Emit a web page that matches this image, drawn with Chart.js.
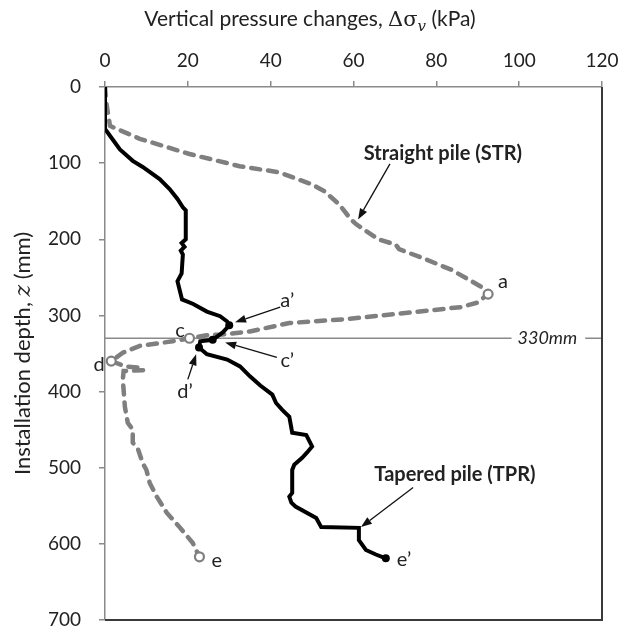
<!DOCTYPE html>
<html><head><meta charset="utf-8">
<script src="https://cdn.jsdelivr.net/npm/chart.js@4/dist/chart.umd.min.js"></script>
<style>html,body{margin:0;padding:0;background:#fff;}#wrap{width:620px;height:637px;}</style>
</head><body><div id="wrap"><canvas id="c" width="620" height="637"></canvas></div>
<script>
// ---- data ----
const xTickValues = [0, 20, 40, 60, 80, 100, 120];
const zTickValues = [0, 100, 200, 300, 400, 500, 600, 700];

// Straight pile (STR): vertical pressure change (kPa) vs depth (mm)
const strX = [0, 0.3, 1.2, 2.4, 8.4, 20.4, 32.5, 42, 50, 53, 56.5, 59.4, 60.6, 66, 70.2, 71, 76.4, 83.6, 88.5, 91, 92.5,
  90, 86, 74, 58, 44.5, 35, 28.4, 24.5, 20.4, 16.3, 8.4, 4.3, 1.5, 5, 9, 9.3, 4.5, 4.3, 4.8, 5.5, 6.7, 6.7, 8, 9.1, 10,
  10.8, 12.5, 14.9, 18, 21.2, 22.8];
const strZ = [0, 20, 51, 54, 68, 88, 104, 112, 128, 137, 154, 174, 180, 200, 207, 213, 224, 240, 255, 263, 272,
  283, 289, 296, 305, 310, 321, 325, 326, 330, 334, 340, 349, 360, 367, 369, 372, 373, 384, 420, 441, 450, 467, 476, 494, 503,
  520, 538, 559, 578, 599, 617];

// Tapered pile (TPR)
const tprX = [0, 0, 1.2, 3.6, 6.7, 9.1, 13.2, 15.6, 17.5, 18.8, 19.5, 19.5, 18.5, 19.2, 18.3, 18.8, 18.5, 17.5, 18.6, 21.3, 24.6, 27.8, 29.5, 30,
  28.5, 26, 23, 22.7, 24.6, 29.5, 32.6, 35, 37.5, 40.4, 41.3, 42.8, 44.5, 45.2, 48.6, 50, 48.8, 47.6, 45.7, 45.2, 45.2, 44.5, 45, 46,
  51, 52.2, 61.3, 61.3, 63, 65.4, 67.8];
const tprZ = [0, 55, 64, 82, 97, 105, 121, 134, 147, 158, 162, 200, 205, 210, 215, 220, 245, 255, 279, 285, 295, 301, 308, 313,
  322, 332, 334, 342, 351, 358, 367, 380, 392, 404, 415, 424, 433, 454, 457, 472, 480, 487, 496, 503, 533, 538, 546, 551,
  566, 578, 579, 595, 608, 614, 619];

// labelled points
const strMarkX = [92.5, 20.4, 1.5, 22.8];
const strMarkZ = [272, 330, 360, 617];
const strMarkNames = ['a', 'c', 'd', 'e'];
const tprMarkX = [30, 26, 22.7, 67.8];
const tprMarkZ = [313, 332, 342, 619];
const tprMarkNames = ['a\u2019', 'c\u2019', 'd\u2019', 'e\u2019'];
const refDepth = 330;
const seriesNames = ['Straight pile (STR)', 'Tapered pile (TPR)'];

// ---- annotation layout (data units) ----
const FONT = 'Lato, "Open Sans", sans-serif';
const labelPos = {
  'a': [96.1, 255], 'c': [18.1, 320], 'd': [-1.4, 364], 'e': [27, 622],
  'a\u2019': [44, 280], 'c\u2019': [44, 359], 'd\u2019': [19.3, 400], 'e\u2019': [72.2, 620]
};
const arrows = [
  {from: [68.8, 101], to: [61.1, 174]},
  {from: [74.4, 526], to: [61.8, 578]},
  {from: [42.3, 289], to: [31.4, 309]},
  {from: [41.5, 355], to: [29, 335.5]},
  {from: [20, 384], to: [22, 351]}
];
const seriesLabelPos = [[81.6, 87], [84.5, 509]];
const refLabelX = 106.8;

const pts = (xs, zs) => xs.map((v, i) => ({x: v, y: zs[i]}));

const annotPlugin = {
  id: 'annot',
  beforeDatasetsDraw(chart) {
    const ctx = chart.ctx, a = chart.chartArea, xs = chart.scales.x, ys = chart.scales.y;
    const y = ys.getPixelForValue(refDepth);
    ctx.save();
    ctx.font = 'italic 18px ' + FONT;
    const w = ctx.measureText('330mm').width;
    const cx = xs.getPixelForValue(refLabelX);
    ctx.strokeStyle = '#8a8a8a'; ctx.lineWidth = 1.5;
    ctx.beginPath();
    ctx.moveTo(a.left, y); ctx.lineTo(cx - w / 2 - 6, y);
    ctx.moveTo(cx + w / 2 + 8, y); ctx.lineTo(a.right, y);
    ctx.stroke();
    ctx.fillStyle = '#222'; ctx.textAlign = 'center'; ctx.textBaseline = 'middle';
    ctx.fillText('330mm', cx, y);
    ctx.restore();
  },
  afterDraw(chart) {
    const ctx = chart.ctx, a = chart.chartArea, xs = chart.scales.x, ys = chart.scales.y;
    const P = (p) => [xs.getPixelForValue(p[0]), ys.getPixelForValue(p[1])];
    ctx.save();
    // right & bottom frame
    ctx.strokeStyle = '#3a3a3a'; ctx.lineWidth = 2;
    ctx.beginPath();
    ctx.moveTo(a.left, a.bottom); ctx.lineTo(a.right, a.bottom); ctx.lineTo(a.right, a.top);
    ctx.stroke();
    // arrows
    ctx.strokeStyle = '#111'; ctx.fillStyle = '#111'; ctx.lineWidth = 1.3;
    arrows.forEach(ar => {
      const [x1, y1] = P(ar.from), [x2, y2] = P(ar.to);
      const ang = Math.atan2(y2 - y1, x2 - x1), L = 11, H = 4;
      const bx = x2 - L * Math.cos(ang), by = y2 - L * Math.sin(ang);
      ctx.beginPath(); ctx.moveTo(x1, y1); ctx.lineTo(bx, by); ctx.stroke();
      ctx.beginPath(); ctx.moveTo(x2, y2);
      ctx.lineTo(bx + H * Math.sin(ang), by - H * Math.cos(ang));
      ctx.lineTo(bx - H * Math.sin(ang), by + H * Math.cos(ang));
      ctx.closePath(); ctx.fill();
    });
    // point labels
    ctx.fillStyle = '#222'; ctx.textAlign = 'center'; ctx.textBaseline = 'middle';
    ctx.font = '20px ' + FONT;
    Object.keys(labelPos).forEach(k => {
      const [px, py] = P(labelPos[k]);
      ctx.fillText(k, px, py);
    });
    // series labels
    ctx.font = 'bold 20px ' + FONT;
    seriesNames.forEach((n, i) => {
      const [px, py] = P(seriesLabelPos[i]);
      ctx.fillText(n, px, py);
    });
    // x title (top)
    const parts = [
      {t: 'Vertical pressure changes, ', f: '21px ' + FONT, dy: 0},
      {t: '\u0394\u03c3', f: '21px "DejaVu Serif", serif', dy: 0},
      {t: 'v', f: 'italic 15px "DejaVu Serif", serif', dy: 5},
      {t: ' (kPa)', f: '21px ' + FONT, dy: 0}
    ];
    let total = 0;
    parts.forEach(p => { ctx.font = p.f; p.w = ctx.measureText(p.t).width; total += p.w; });
    let x0 = 310 - total / 2;
    ctx.textAlign = 'left'; ctx.textBaseline = 'alphabetic';
    parts.forEach(p => { ctx.font = p.f; ctx.fillText(p.t, x0, 26 + p.dy); x0 += p.w; });
    // y title (rotated)
    ctx.translate(30, (a.top + a.bottom) / 2);
    ctx.rotate(-Math.PI / 2);
    const yparts = [
      {t: 'Installation depth, ', f: '22px ' + FONT},
      {t: 'z', f: 'italic 22px "DejaVu Serif", serif'},
      {t: ' (mm)', f: '22px ' + FONT}
    ];
    total = 0;
    yparts.forEach(p => { ctx.font = p.f; p.w = ctx.measureText(p.t).width; total += p.w; });
    x0 = -total / 2;
    yparts.forEach(p => { ctx.font = p.f; ctx.fillText(p.t, x0, 0); x0 += p.w; });
    ctx.restore();
  }
};

new Chart(document.getElementById('c'), {
  type: 'scatter',
  data: {
    datasets: [
      {label: seriesNames[0], data: pts(strX, strZ), showLine: true, borderColor: '#7f7f7f', borderWidth: 4.5,
        borderDash: [9, 8], borderCapStyle: 'round', pointRadius: 0, tension: 0, order: 2},
      {label: seriesNames[1], data: pts(tprX, tprZ), showLine: true, borderColor: '#000', borderWidth: 4,
        pointRadius: 0, tension: 0, borderJoinStyle: 'miter', order: 1},
      {label: 'STR points', data: pts(strMarkX, strMarkZ), pointRadius: 4.5, pointBorderWidth: 2.2,
        pointBackgroundColor: '#fff', pointBorderColor: '#7f7f7f', clip: false, order: 0},
      {label: 'TPR points', data: pts(tprMarkX, tprMarkZ), pointRadius: 4, pointBorderWidth: 0,
        pointBackgroundColor: '#000', pointBorderColor: '#000', clip: false, order: 0}
    ]
  },
  options: {
    responsive: false, devicePixelRatio: 1, animation: false,
    layout: {padding: {left: 0, right: 18, top: 0, bottom: 17}},
    plugins: {legend: {display: false}, tooltip: {enabled: false}},
    scales: {
      x: {
        type: 'linear', position: 'top', min: 0, max: 120,
        afterBuildTicks: s => { s.ticks = xTickValues.map(v => ({value: v})); },
        afterFit: s => { s.height = 87; s.paddingLeft = 0; s.paddingRight = 0; s.paddingTop = 0; s.paddingBottom = 0; },
        grid: {drawOnChartArea: false, drawTicks: true, tickLength: 6, tickColor: '#8a8a8a', lineWidth: 1.5},
        border: {color: '#8a8a8a', width: 1.5},
        ticks: {color: '#222', font: {family: FONT, size: 19}, padding: 9, maxRotation: 0}
      },
      y: {
        type: 'linear', reverse: true, min: 0, max: 700,
        afterBuildTicks: s => { s.ticks = zTickValues.map(v => ({value: v})); },
        afterFit: s => { s.width = 105; s.paddingLeft = 0; s.paddingRight = 0; s.paddingTop = 0; s.paddingBottom = 0; },
        grid: {drawOnChartArea: false, drawTicks: true, tickLength: 6, tickColor: '#8a8a8a', lineWidth: 1.5},
        border: {color: '#8a8a8a', width: 1.5},
        ticks: {color: '#222', font: {family: FONT, size: 19}, padding: 18}
      }
    }
  },
  plugins: [annotPlugin]
});
</script></body></html>
